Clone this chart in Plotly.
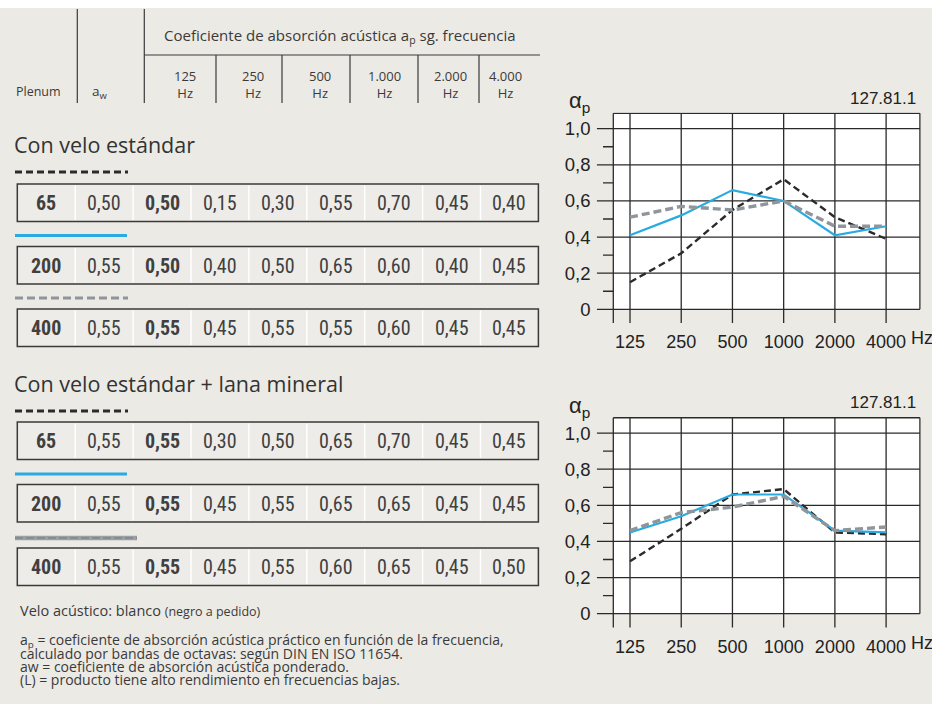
import plotly.graph_objects as go

W, H = 932, 704
BG = "#ECEAE5"
INK = "#3a3a3a"
TXT_FONT = "'Open Sans', Lato, sans-serif"
NUM_FONT = "'Roboto Condensed', 'Liberation Sans Narrow', Roboto, sans-serif"
CHART_FONT = "'Liberation Sans', Arial, sans-serif"

# ---------------- data ----------------
freqs = ["125", "250", "500", "1000", "2000", "4000"]
freq_headers = ["125", "250", "500", "1.000", "2.000", "4.000"]
plenum = ["65", "200", "400"]
y_tick_vals = [0, 0.2, 0.4, 0.6, 0.8, 1.0]
y_tick_text = ["0", "0,2", "0,4", "0,6", "0,8", "1,0"]

sec1_rows = [
    ["0,50", "0,50", "0,15", "0,30", "0,55", "0,70", "0,45", "0,40"],
    ["0,55", "0,50", "0,40", "0,50", "0,65", "0,60", "0,40", "0,45"],
    ["0,55", "0,55", "0,45", "0,55", "0,55", "0,60", "0,45", "0,45"],
]
sec2_rows = [
    ["0,55", "0,55", "0,30", "0,50", "0,65", "0,70", "0,45", "0,45"],
    ["0,55", "0,55", "0,45", "0,55", "0,65", "0,65", "0,45", "0,45"],
    ["0,55", "0,55", "0,45", "0,55", "0,60", "0,65", "0,45", "0,50"],
]

# curves
c1_p65 = [0.15, 0.31, 0.55, 0.72, 0.51, 0.39]
c1_p200 = [0.41, 0.52, 0.66, 0.60, 0.41, 0.46]
c1_p400 = [0.51, 0.57, 0.55, 0.60, 0.46, 0.46]
c2_p65 = [0.29, 0.47, 0.66, 0.69, 0.45, 0.44]
c2_p200 = [0.45, 0.54, 0.66, 0.66, 0.46, 0.45]
c2_p400 = [0.46, 0.56, 0.59, 0.65, 0.46, 0.48]

section_titles = ["Con velo estándar", "Con velo estándar + lana mineral"]
chart_id = "127.81.1"

# ---------------- helpers ----------------
def px(x):
    return x / W

def py(y):
    return 1 - y / H

shapes = []
annotations = []

def line_px(x0, y0, x1, y1, color=INK, width=1.2, dash=None):
    ln = dict(color=color, width=width)
    if dash:
        ln["dash"] = dash
    shapes.append(dict(type="line", xref="paper", yref="paper",
                       x0=px(x0), y0=py(y0), x1=px(x1), y1=py(y1), line=ln))

def text_px(x, y, t, size=14, font=TXT_FONT, color=INK, xanchor="center", yanchor="middle", bold=False):
    if bold:
        t = "<b>" + t + "</b>"
    annotations.append(dict(xref="paper", yref="paper", x=px(x), y=py(y), text=t,
                            showarrow=False, xanchor=xanchor, yanchor=yanchor,
                            font=dict(family=font, size=size, color=color)))

series_style = [
    dict(color="#2b2b2b", dash="7px,4px", width=2.4),   # 65
    dict(color="#29ABE2", dash=None, width=2.2),        # 200
    dict(color="#8E959B", dash="8px,4px", width=3.4),   # 400
]

# white strip at top
shapes.append(dict(type="rect", xref="paper", yref="paper", x0=0, x1=1, y0=py(8), y1=1,
                   fillcolor="white", line=dict(width=0), layer="below"))

# ---------------- table header ----------------
line_px(77.3, 9, 77.3, 103)
line_px(144.3, 9, 144.3, 103)
line_px(144.3, 55, 540, 55)
for xs in [216, 282, 350, 418, 479]:
    line_px(xs, 55, xs, 103)
text_px(340, 36, "Coeficiente de absorción acústica a<sub>p</sub> sg. frecuencia", size=15)
hdr_centers = [185, 253, 320, 384, 450, 505]
for cx, f in zip(hdr_centers, freq_headers):
    text_px(cx, 84, f + "<br>Hz", size=13)
text_px(38, 92, "Plenum", size=12.5)
text_px(100, 92, "a<sub>w</sub>", size=13.5)

# ---------------- table rows ----------------
cell_w = 57.9
x_left = 17.3
row_h = 37.5

def draw_section(title, title_y, tops, legend_ys, rows, legend_x1s):
    text_px(12, title_y, title, size=21.5, xanchor="left", color="#333")
    for r, (top, ly, vals) in enumerate(zip(tops, legend_ys, rows)):
        st = series_style[r]
        if r == 2 and title_y > 300:
            line_px(15, ly, legend_x1s[r], ly, color="#9BA0A5", width=4.5)
            line_px(15, ly, legend_x1s[r], ly, color="#868C92", width=2, dash="8px,3px")
        else:
            line_px(15, ly, legend_x1s[r], ly, color=st["color"], width=3.2, dash=st["dash"])
        shapes.append(dict(type="rect", xref="paper", yref="paper",
                           x0=px(x_left), x1=px(x_left + 9 * cell_w),
                           y0=py(top + row_h), y1=py(top),
                           line=dict(color=INK, width=1.5), fillcolor="#EEECE8"))
        for c in range(1, 9):
            xs = x_left + c * cell_w
            line_px(xs, top + 1.5, xs, top + row_h - 1.5, color="white", width=1.5)
        cells = [plenum[r]] + vals
        for c, v in enumerate(cells):
            text_px(x_left + (c + 0.5) * cell_w, top + row_h / 2 + 0.5, v, size=20,
                    font=NUM_FONT, color="#404040", bold=(c in (0, 2)))

draw_section(section_titles[0], 144, [184, 246.5, 309], [172, 235.5, 298], sec1_rows, [128, 127, 128])
draw_section(section_titles[1], 383, [422, 484.5, 548], [411, 474, 538], sec2_rows, [128, 127, 137])

# ---------------- footer ----------------
text_px(18, 610, "Velo acústico: blanco <span style='font-size:12.5px'>(negro a pedido)</span>",
        size=14.5, xanchor="left")
notes = [
    "a<sub>p</sub> = coeficiente de absorción acústica práctico en función de la frecuencia,",
    "calculado por bandas de octavas: según DIN EN ISO 11654.",
    "aw = coeficiente de absorción acústica ponderado.",
    "(L) = producto tiene alto rendimiento en frecuencias bajas.",
]
for i, n in enumerate(notes):
    text_px(18, 640 + i * 13, n, size=14, xanchor="left")

# ---------------- charts ----------------
unit = 51.22
x125 = 630.0
XR = [-0.66, 5.68]
YR = [-0.08, 1.09]
ppu = 180.6

def chart(idx, zero_px, curves):
    xa = "x" if idx == 1 else "x2"
    ya = "y" if idx == 1 else "y2"
    dom_x = [px(x125 + XR[0] * unit), px(x125 + XR[1] * unit)]
    dom_y = [py(zero_px - YR[0] * ppu), py(zero_px - YR[1] * ppu)]
    box_l, box_r, box_t, ext_b = -0.326, 5.66, 1.085, -0.076
    shapes.append(dict(type="rect", xref=xa, yref=ya, x0=box_l, x1=box_r, y0=0, y1=box_t,
                       fillcolor="white", line=dict(width=0), layer="below"))
    lc = dict(color="#2a2a2a", width=1.3)
    for yv in y_tick_vals:
        shapes.append(dict(type="line", xref=xa, yref=ya, x0=-0.646, x1=box_r, y0=yv, y1=yv,
                           line=lc, layer="below"))
    for yv in [0.1, 0.3, 0.5, 0.7, 0.9]:
        shapes.append(dict(type="line", xref=xa, yref=ya, x0=-0.527, x1=box_l, y0=yv, y1=yv,
                           line=lc, layer="below"))
    shapes.append(dict(type="line", xref=xa, yref=ya, x0=box_l, x1=box_r, y0=box_t, y1=box_t,
                       line=lc, layer="below"))
    shapes.append(dict(type="line", xref=xa, yref=ya, x0=box_r, x1=box_r, y0=0, y1=box_t,
                       line=lc, layer="below"))
    shapes.append(dict(type="line", xref=xa, yref=ya, x0=box_l, x1=box_l, y0=ext_b, y1=box_t,
                       line=lc, layer="below"))
    for i in range(len(freqs)):
        shapes.append(dict(type="line", xref=xa, yref=ya, x0=i, x1=i, y0=ext_b, y1=box_t,
                           line=lc, layer="below"))
    for vals, st in zip(curves, series_style):
        ln = dict(color=st["color"], width=st["width"])
        if st["dash"]:
            ln["dash"] = st["dash"]
        fig.add_trace(go.Scatter(x=freqs, y=vals, mode="lines", line=ln,
                                 xaxis=xa, yaxis=ya, showlegend=False, hoverinfo="skip"))
    axis_x = dict(domain=dom_x, type="category", range=XR, showgrid=False, zeroline=False,
                  showline=False, ticks="outside", ticklen=2, tickcolor="rgba(0,0,0,0)",
                  tickfont=dict(family=CHART_FONT, size=18, color="#222"), anchor=ya,
                  fixedrange=True)
    axis_y = dict(domain=dom_y, range=YR, showgrid=False, zeroline=False, showline=False,
                  tickvals=y_tick_vals, ticktext=y_tick_text, ticks="outside", ticklen=1,
                  tickcolor="rgba(0,0,0,0)",
                  tickfont=dict(family=CHART_FONT, size=18.5, color="#222"), anchor=xa,
                  fixedrange=True)
    top_px = zero_px - 1.085 * ppu
    annotations.append(dict(xref="paper", yref="paper", x=px(567), y=py(top_px - 11),
                            text="α<sub>p</sub>", showarrow=False, xanchor="left",
                            yanchor="middle", font=dict(family=CHART_FONT, size=22, color="#222")))
    annotations.append(dict(xref="paper", yref="paper", x=px(918), y=py(top_px - 15),
                            text=chart_id, showarrow=False, xanchor="right",
                            yanchor="middle", font=dict(family=CHART_FONT, size=17, color="#222")))
    annotations.append(dict(xref="paper", yref="paper", x=px(909), y=py(zero_px + 29),
                            text="Hz", showarrow=False, xanchor="left",
                            yanchor="middle", font=dict(family=CHART_FONT, size=18, color="#222")))
    return axis_x, axis_y

fig = go.Figure()
ax1, ay1 = chart(1, 309.3, [c1_p65, c1_p200, c1_p400])
ax2, ay2 = chart(2, 613.7, [c2_p65, c2_p200, c2_p400])

fig.update_layout(
    width=W, height=H, margin=dict(l=0, r=0, t=0, b=0),
    paper_bgcolor=BG, plot_bgcolor="rgba(0,0,0,0)",
    xaxis=ax1, yaxis=ay1, xaxis2=ax2, yaxis2=ay2,
    shapes=shapes, annotations=annotations, showlegend=False,
)

fig.write_html("out.html", config={"displayModeBar": False},
               post_script="document.body.style.margin='0';document.body.style.overflow='hidden';")
